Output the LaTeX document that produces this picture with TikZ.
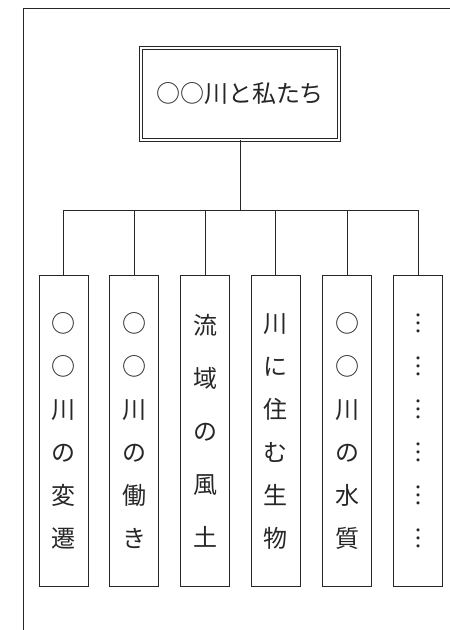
\documentclass[tikz,border=0pt]{standalone}
\usepackage{fontspec}
\newfontfamily\cjk{Noto Sans CJK JP}
\usetikzlibrary{positioning}

\begin{document}
\begin{tikzpicture}[x=1pt, y=-1pt, line width=0.7pt, draw=black!85,
  every node/.style={text=black!85},
  theme/.style={draw, double, double distance=2.6pt, minimum width=198pt, minimum height=92pt, inner sep=0pt, font=\cjk\fontsize{24}{28}\selectfont},
  topic/.style={draw, minimum width=49pt, minimum height=311pt, inner sep=0pt, align=center}]
\useasboundingbox (0,0) rectangle (450,630);

% frame
\draw (23,630) -- (23,8) -- (450,8);

\node[theme] (title) at (240,94) {○○川と私たち};

\foreach \pos/\name/\lead/\disp in {{(63.5,431)/hensen/43/○\\○\\川\\の\\変\\遷}, {(134,431)/hataraki/43/○\\○\\川\\の\\働\\き}, {(205,431)/fudo/53/流\\域\\の\\風\\土}, {(275.5,431)/seibutsu/43/川\\に\\住\\む\\生\\物}, {(347,431)/suishitsu/43/○\\○\\川\\の\\水\\質}, {(418,431)/sonota/43/︙\\︙\\︙\\︙\\︙\\︙}}
\node[topic, font=\cjk\fontsize{24}{\lead}\selectfont] (\name) at \pos {\disp};

% Connect title with topics
\coordinate (bus) at (240,210);
\draw (title.south) -- (bus);
\foreach \dest in {hensen, hataraki, fudo, seibutsu, suishitsu, sonota}
\draw (bus) -| (\dest.north);

\end{tikzpicture}
\end{document}
